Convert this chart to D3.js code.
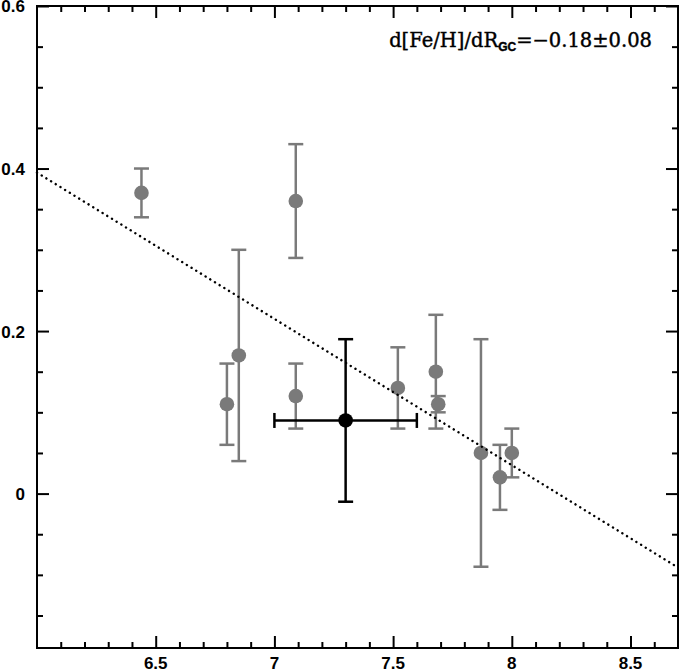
<!DOCTYPE html>
<html>
<head>
<meta charset="utf-8">
<script src="https://cdn.jsdelivr.net/npm/d3@7"></script>
<style>
  body { margin: 0; background: #fff; }
  svg { display: block; }
  .tick-label { font-family: "Liberation Sans", Arial, sans-serif; font-weight: bold; font-size: 17px; fill: #000; }
</style>
</head>
<body>
<svg id="chart" width="679" height="670"></svg>
<script>
const WIDTH  = 679;
const HEIGHT = 670;
const MARGINTOP    = 6;
const MARGINRIGHT  = 1;
const MARGINBOTTOM = 22;
const MARGINLEFT   = 37;

// galactocentric radius (kpc) and [Fe/H] of the grey points
var rgc    = [6.44, 6.80, 6.85, 7.09, 7.09, 7.52, 7.68, 7.69, 7.87, 7.95, 8.00];
var feh    = [0.37, 0.11, 0.17, 0.36, 0.12, 0.13, 0.15, 0.11, 0.05, 0.02, 0.05];
var fehLow = [0.34, 0.06, 0.04, 0.29, 0.08, 0.08, 0.08, 0.10, -0.09, -0.02, 0.02];
var fehHigh= [0.40, 0.16, 0.30, 0.43, 0.16, 0.18, 0.22, 0.12, 0.19, 0.06, 0.08];

// mean point (black) with errors in both directions
var meanPoint = { x: 7.3, y: 0.09, xLow: 7.0, xHigh: 7.6, yLow: -0.01, yHigh: 0.19 };

// gradient fit: [Fe/H] = fitAt6 + fitSlope * (R - 6)
var fitSlope = -0.18;
var fitAt6   = 0.395;

var xDomain = [6.0, 8.7];
var yDomain = [-0.19, 0.6];
var xMajor = [6.5, 7, 7.5, 8, 8.5];
var yMajor = [0, 0.2, 0.4, 0.6];
var xLabels = ["6.5", "7", "7.5", "8", "8.5"];
var yLabels = ["0", "0.2", "0.4", "0.6"];

var GREY = "#7a7a7a";

document.addEventListener('DOMContentLoaded', function(){
    drawChart();
}, false);

function drawChart(){
    var vis = d3.select("#chart");

    var x = d3.scaleLinear().domain(xDomain).range([MARGINLEFT, WIDTH - MARGINRIGHT]);
    var y = d3.scaleLinear().domain(yDomain).range([HEIGHT - MARGINBOTTOM, MARGINTOP]);

    var xMinor = d3.range(61, 88).map(function(v){ return v / 10; }).filter(function(v){
        return xMajor.every(function(m){ return Math.abs(m - v) > 1e-6; });
    });
    var yMinor = d3.range(-3, 12).map(function(v){ return v * 0.05; }).filter(function(v){
        return yMajor.every(function(m){ return Math.abs(m - v) > 1e-6; });
    });

    // inward ticks on all four sides
    var axes = [
        { gen: d3.axisBottom, t: "translate(0," + (HEIGHT - MARGINBOTTOM) + ")", scale: x },
        { gen: d3.axisTop,    t: "translate(0," + MARGINTOP + ")",             scale: x },
        { gen: d3.axisLeft,   t: "translate(" + MARGINLEFT + ",0)",            scale: y },
        { gen: d3.axisRight,  t: "translate(" + (WIDTH - MARGINRIGHT) + ",0)", scale: y }
    ];
    axes.forEach(function(a){
        var isX = a.scale === x;
        var major = a.gen(a.scale).tickValues(isX ? xMajor : yMajor).tickSize(-12).tickFormat("");
        var minor = a.gen(a.scale).tickValues(isX ? xMinor : yMinor).tickSize(-6).tickFormat("");
        [major, minor].forEach(function(ax){
            var g = vis.append("g").attr("transform", a.t).call(ax);
            g.select(".domain").remove();
            g.selectAll("line").attr("stroke", "#000").attr("stroke-width", 2);
        });
    });

    // frame
    vis.append("rect")
        .attr("x", MARGINLEFT)
        .attr("y", MARGINTOP)
        .attr("width", WIDTH - MARGINRIGHT - MARGINLEFT)
        .attr("height", HEIGHT - MARGINBOTTOM - MARGINTOP)
        .attr("fill", "none")
        .attr("stroke", "#000")
        .attr("stroke-width", 2);

    // tick labels
    vis.selectAll(".xlab").data(xMajor).enter().append("text")
        .attr("class", "tick-label")
        .attr("x", function(d){ return x(d); })
        .attr("y", HEIGHT - 1)
        .attr("text-anchor", "middle")
        .text(function(d,i){ return xLabels[i]; });

    vis.selectAll(".ylab").data(yMajor).enter().append("text")
        .attr("class", "tick-label")
        .attr("x", 25)
        .attr("y", function(d){ return y(d); })
        .attr("dy", "0.38em")
        .attr("text-anchor", "end")
        .text(function(d,i){ return yLabels[i]; });

    // grey error bars + points
    var pts = rgc.map(function(r,i){ return { x: r, y: feh[i], lo: fehLow[i], hi: fehHigh[i] }; });
    var CAP = 7.5;
    var g = vis.append("g").attr("stroke", GREY).attr("stroke-width", 2.5);
    pts.forEach(function(d){
        g.append("line").attr("x1", x(d.x)).attr("x2", x(d.x)).attr("y1", y(d.lo)).attr("y2", y(d.hi));
        g.append("line").attr("x1", x(d.x) - CAP).attr("x2", x(d.x) + CAP).attr("y1", y(d.lo)).attr("y2", y(d.lo));
        g.append("line").attr("x1", x(d.x) - CAP).attr("x2", x(d.x) + CAP).attr("y1", y(d.hi)).attr("y2", y(d.hi));
    });
    vis.selectAll(".pt").data(pts).enter().append("circle")
        .attr("cx", function(d){ return x(d.x); })
        .attr("cy", function(d){ return y(d.y); })
        .attr("r", 7.3)
        .attr("fill", GREY);

    // black mean point
    var m = meanPoint;
    var gb = vis.append("g").attr("stroke", "#000").attr("stroke-width", 2.5);
    gb.append("line").attr("x1", x(m.x)).attr("x2", x(m.x)).attr("y1", y(m.yLow)).attr("y2", y(m.yHigh));
    gb.append("line").attr("x1", x(m.x) - CAP).attr("x2", x(m.x) + CAP).attr("y1", y(m.yLow)).attr("y2", y(m.yLow));
    gb.append("line").attr("x1", x(m.x) - CAP).attr("x2", x(m.x) + CAP).attr("y1", y(m.yHigh)).attr("y2", y(m.yHigh));
    gb.append("line").attr("x1", x(m.xLow)).attr("x2", x(m.xHigh)).attr("y1", y(m.y)).attr("y2", y(m.y));
    gb.append("line").attr("x1", x(m.xLow)).attr("x2", x(m.xLow)).attr("y1", y(m.y) - CAP).attr("y2", y(m.y) + CAP);
    gb.append("line").attr("x1", x(m.xHigh)).attr("x2", x(m.xHigh)).attr("y1", y(m.y) - CAP).attr("y2", y(m.y) + CAP);
    vis.append("circle").attr("cx", x(m.x)).attr("cy", y(m.y)).attr("r", 7.3).attr("fill", "#000");

    // dotted fit line
    var fit = xDomain.map(function(r){ return [r, fitAt6 + fitSlope * (r - 6)]; });
    vis.append("path")
        .datum(fit)
        .attr("d", d3.line().x(function(d){ return x(d[0]); }).y(function(d){ return y(d[1]); }))
        .attr("fill", "none")
        .attr("stroke", "#000")
        .attr("stroke-width", 2.4)
        .attr("stroke-linecap", "round")
        .attr("stroke-dasharray", "0.1,5.4");

    // gradient annotation
    var t = vis.append("text")
        .attr("x", 652)
        .attr("y", 47)
        .attr("text-anchor", "end")
        .attr("font-family", "'DejaVu Serif', serif")
        .attr("font-size", 19.5)
        .attr("fill", "#000")
        .attr("stroke", "#000")
        .attr("stroke-width", 0.4);
    t.append("tspan").text("d[Fe/H]/dR");
    t.append("tspan").attr("font-family", "'Liberation Sans', sans-serif").attr("font-weight", "bold")
        .attr("font-size", 12).attr("dy", 4).text("GC");
    t.append("tspan").attr("dy", -4).text("=\u22120.18\u00b10.08");
}
</script>
</body>
</html>
